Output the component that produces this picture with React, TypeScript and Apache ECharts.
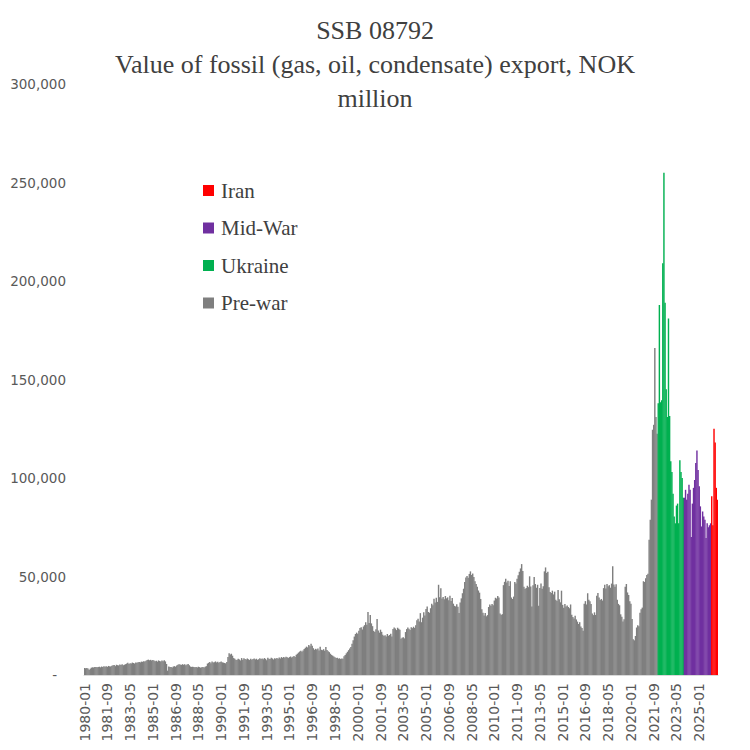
import React, { useEffect, useRef } from "react";
import * as echarts from "echarts";

const startYear = 1980;

// Pre-war monthly values, NOK million
const preWar1980s = [
  3500, 3400, 3600, 3300, 2600, 3200, 3700, 3900, 3800, 4000, 4100, 3900,
  4100, 4200, 3900, 4300, 4000, 4400, 4200, 4500, 4100, 4600, 4400, 4300,
  4700, 4900, 5100, 4500, 5200, 5000, 4800, 5300, 5100, 5400, 5000, 5200,
  5500, 5800, 6200, 5600, 6000, 5900, 6300, 6100, 5800, 6400, 6200, 6500,
  6600, 6400, 6800, 6700, 7000, 6900, 7200, 7600, 7800, 7500, 7700, 7400,
  7600, 7300, 7000, 7200, 6800, 7400, 7100, 6900, 7300, 7000, 7500, 6900,
  5600, 2200, 4300, 4000, 4100, 3800, 4300, 4500, 4200, 4800, 5200, 5400,
  5300, 5100, 5500, 5200, 5400, 5000, 5300, 5600, 4900, 4300, 4100, 4200,
  4000, 3900, 4100, 3800, 4200, 4000, 3700, 3900, 4100, 3800, 4200, 4500,
  5800, 6200, 6600, 6000, 6800, 6300, 6500, 6900, 6400, 6700, 6200, 6600,
];
const preWar1990s = [
  6800, 6400, 6300, 6100, 5900, 6600, 9200, 11000, 10400, 10800, 9800, 8600,
  8200, 7600, 7800, 8300, 7900, 7400, 8600, 7700, 8500, 8100, 7900, 8400,
  8000, 7600, 8300, 7800, 8100, 8400, 7900, 8200, 7700, 8000, 8500, 8100,
  8400, 8000, 8600, 8200, 7500, 8700, 8300, 8100, 8800, 8400, 7900, 8500,
  8200, 8600, 8300, 8900, 8400, 9100, 8700, 9200, 8800, 9300, 9000, 8600,
  9100, 9400, 8900, 9300, 9700, 9200, 10300, 10800, 11400, 11900, 12300, 11800,
  12500, 13200, 13800, 14400, 14000, 15200, 14600, 15800, 14900, 13600, 12800, 13300,
  12900, 13500, 12400, 14400, 12800, 12600, 13100, 12300, 14200, 12700, 12100, 11600,
  10800, 10200, 9800, 9400, 9000, 8600, 8800, 8300, 8500, 8100, 8400, 8200,
  9500, 10200, 11000, 11800, 12600, 13400, 14200, 15800, 17600, 19500, 20800, 21500,
];
const preWar2000s = [
  21000, 22500, 23800, 24200, 23100, 24600, 25300, 26800, 25500, 32000, 26400, 30500,
  26200, 24800, 22400, 21800, 23200, 28400, 22600, 21500, 23000, 21900, 20400, 19800,
  20200, 19600, 20800, 19900, 20300, 21000, 19500, 23400, 24100, 23600, 22800, 24000,
  23500, 23000, 18400, 18900, 19200, 18600, 21800, 23300, 24100, 23500, 22900, 24200,
  23800, 24500, 23900, 25200, 27800, 28600, 27200, 31400, 26800, 29100, 31800, 30200,
  33500, 34800, 32000, 31600, 33900, 36200, 35400, 38700, 36800, 39200, 37100, 45800,
  39500, 44000, 38800, 39600, 38500, 40100, 38900, 39400, 38000, 40200, 37600, 39100,
  36200, 35100, 34800, 35900, 34600, 31500, 36800, 38900, 41500, 43800, 47200, 49500,
  50200, 49400, 51300, 52600, 50800, 51500, 49800, 47600, 46200, 44800, 42900, 41800,
  38600, 33400, 31600, 30200, 31500, 29800, 30400, 34500, 35800, 35200, 36100, 35400,
];
const preWar2010s = [
  37800, 39200, 38800, 40100, 39400, 31200, 30500, 30900, 45600, 47300, 48800, 46900,
  47800, 45200, 47600, 39400, 38600, 39800, 47200, 46500, 48900, 50600, 52400, 54100,
  56300, 52800, 44800, 43600, 44200, 45300, 44600, 50100, 44900, 34800, 45600, 49800,
  46200, 44300, 45800, 35200, 44100, 46500, 43800, 45100, 52600, 54600, 51800, 52400,
  44500, 42100, 41600, 42800, 40900, 42300, 38200, 37600, 43100, 38400, 36900, 42800,
  35600, 34200, 36100, 34800, 35300, 34500, 33900, 35800, 30600, 29400, 28700, 30100,
  28200, 27100, 25900, 26800, 24600, 23800, 22400, 36200, 37500, 35800, 41500, 38200,
  37400, 36100, 31200, 30400, 31800, 30500, 40200, 41600, 39400, 38100, 38600, 37800,
  44100, 45800, 43900, 46200, 45100, 45600, 44300, 46400, 55200, 45900, 44800, 46100,
  38200, 36100, 35400, 30800, 29600, 27100, 28300, 44800, 46200, 41900, 40600, 37500,
];
const preWar2020s = [
  36200, 28400, 18200, 17600, 19800, 24100, 25200, 24800, 31600, 33400, 34200, 47600,
  47200, 49100, 50800, 51400, 68600, 78800, 89000, 124500, 127000, 166000, 131000, 122500,
];

const ukraine = [
  138000, 187800, 138500, 139500, 209000, 255000, 189000, 145000, 131000, 181000,
  131500, 108500, 103000, 92000, 80500, 77000, 86000, 87000, 77000, 109000,
  103000, 100000, 90000,
];
const midWar = [
  90000, 94000, 89000, 92000, 96600, 94000, 70000, 87000, 95000, 99000,
  107600, 114000, 104000, 95800, 85600, 75400, 83000, 80500, 78800, 69500,
  77000, 75000, 76000, 77000,
];
const iran = [90700, 76000, 125000, 118000, 95000, 89000];

const legendOrder = ["Iran", "Mid-War", "Ukraine", "Pre-war"];

const preWar = [...preWar1980s, ...preWar1990s, ...preWar2000s, ...preWar2010s, ...preWar2020s];
const total = preWar.length + ukraine.length + midWar.length + iran.length;

const categories: string[] = [];
for (let i = 0; i < total; i++) {
  const y = startYear + Math.floor(i / 12);
  const m = (i % 12) + 1;
  categories.push(`${y}-${m < 10 ? "0" + m : m}`);
}

function place(values: number[], offset: number) {
  const out: (number | string)[] = new Array(total).fill("-");
  values.forEach((v, k) => {
    out[offset + k] = v;
  });
  return out;
}

function fmt(v: number) {
  if (v === 0) return "{d|-}";
  return String(v).replace(/\B(?=(\d{3})+(?!\d))/g, ",");
}

export default function App() {
  const ref = useRef<HTMLDivElement>(null);
  useEffect(() => {
    if (!ref.current) return;
    const chart = echarts.init(ref.current, undefined, { renderer: "svg" });
    const mk = (name: string, data: (number | string)[], color: string) => ({
      type: "bar",
      name,
      data,
      barGap: "-100%",
      barWidth: "125%",
      itemStyle: { color },
    });
    const o1 = preWar.length;
    const o2 = o1 + ukraine.length;
    const o3 = o2 + midWar.length;
    chart.setOption({
      animation: false,
      backgroundColor: "#ffffff",
      title: {
        text: "SSB 08792\nValue of fossil (gas, oil, condensate) export, NOK\nmillion",
        left: "center",
        top: 8,
        textStyle: {
          fontFamily: "Liberation Serif",
          fontSize: 26,
          lineHeight: 34,
          color: "#404040",
          fontWeight: "normal",
        },
      },
      legend: {
        data: legendOrder,
        orient: "vertical",
        left: 203,
        top: 180,
        padding: 0,
        itemWidth: 11,
        itemHeight: 11,
        itemGap: 16.5,
        icon: "rect",
        textStyle: {
          fontFamily: "Liberation Serif",
          fontSize: 21,
          lineHeight: 20,
          color: "#404040",
          padding: [0, 0, 0, 2],
        },
      },
      grid: { left: 84, right: 32, top: 84, bottom: 75 },
      xAxis: {
        type: "category",
        data: categories,
        axisLine: { lineStyle: { color: "#D9D9D9", width: 1 } },
        axisTick: { show: false },
        axisLabel: {
          interval: 19,
          rotate: 90,
          color: "#595959",
          fontFamily: "DejaVu Sans",
          fontSize: 14,
          margin: 8,
        },
      },
      yAxis: {
        type: "value",
        min: 0,
        max: 300000,
        interval: 50000,
        axisLine: { show: false },
        axisTick: { show: false },
        splitLine: { show: false },
        axisLabel: {
          color: "#595959",
          fontFamily: "DejaVu Sans",
          fontSize: 13.5,
          margin: 18,
          formatter: fmt,
          rich: {
            d: { padding: [0, 9, 0, 0], color: "#595959", fontFamily: "DejaVu Sans", fontSize: 13.5 },
          },
        },
      },
      series: [
        mk("Pre-war", place(preWar, 0), "#7F7F7F"),
        mk("Ukraine", place(ukraine, o1), "#00B050"),
        mk("Mid-War", place(midWar, o2), "#7030A0"),
        mk("Iran", place(iran, o3), "#FF0000"),
      ],
    });
    return () => chart.dispose();
  }, []);
  return (
    <div
      ref={ref}
      style={{ position: "fixed", left: 0, top: 0, width: 750, height: 750 }}
    />
  );
}
